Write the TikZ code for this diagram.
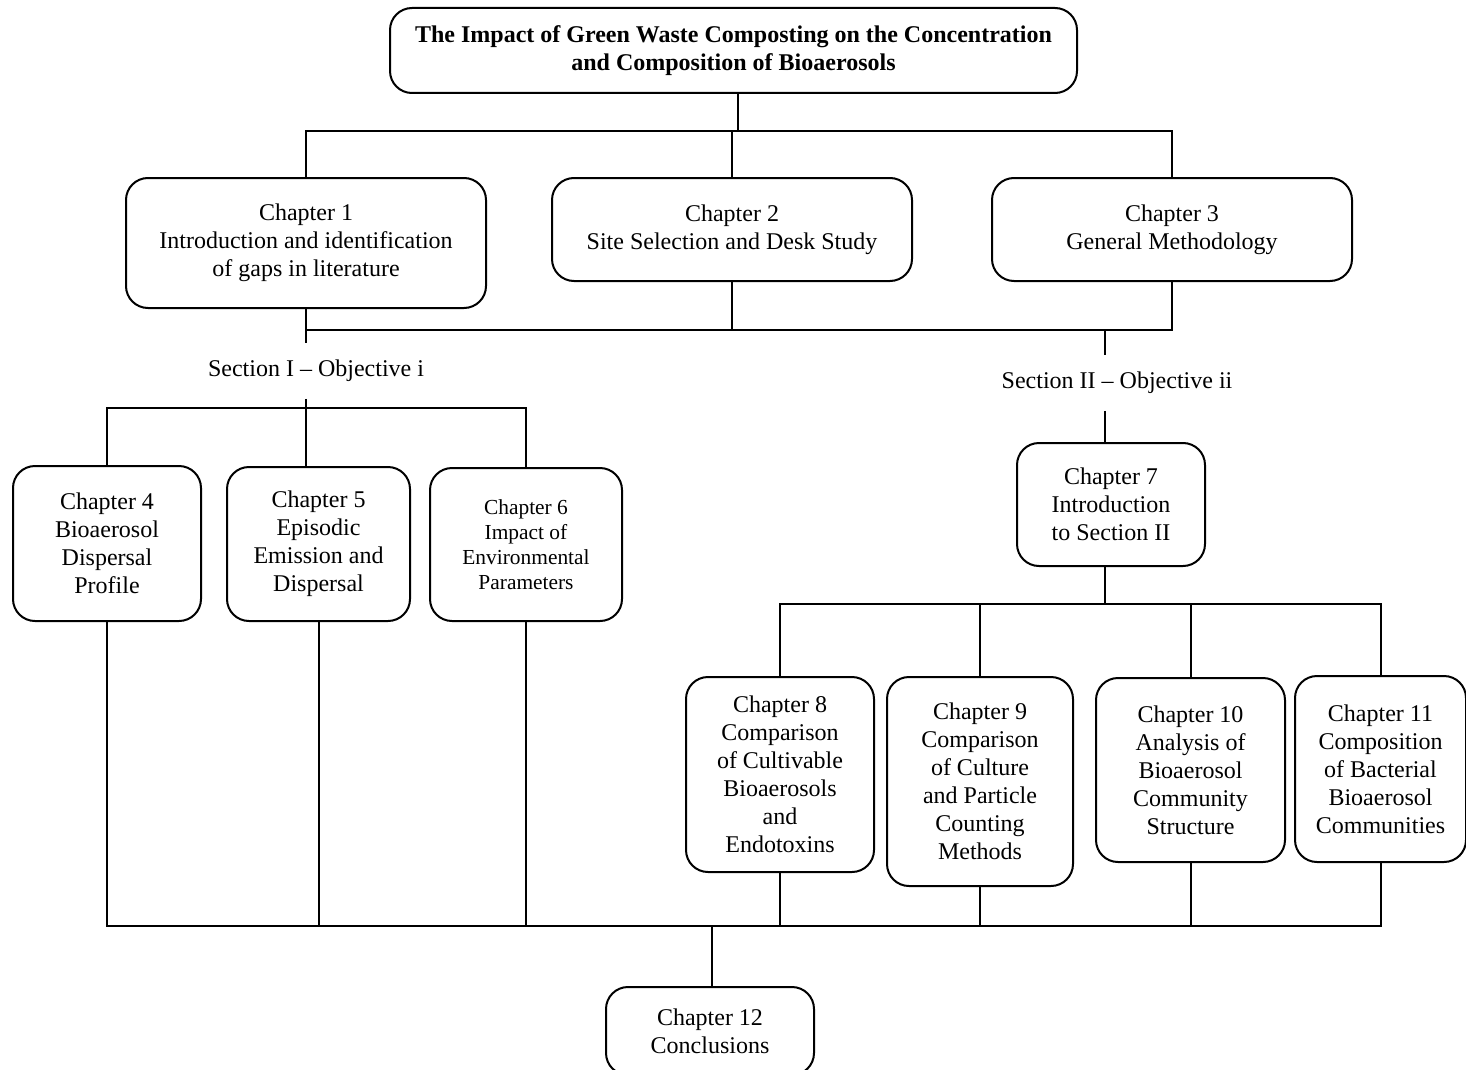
\documentclass[tikz,border=0pt]{standalone}
\usepackage{fontspec}
\setmainfont{Liberation Serif}
\usepackage{tikz}

\begin{document}
\begin{tikzpicture}[x=0.5pt, y=-0.5pt, line width=1pt,
        chap/.style={draw, rounded corners=11pt, align=center, inner sep=0pt, font=\fontsize{12}{14}\selectfont},
        sect/.style={inner sep=8pt, font=\fontsize{12}{14}\selectfont}]
        \useasboundingbox (0,0) rectangle (1466,1070);
        % top row
        \node[chap, minimum width=343.5pt, minimum height=42.5pt, font=\fontsize{12}{14}\selectfont\bfseries] (title) at (733.5,50.5) {The Impact of Green Waste Composting on the Concentration\\and Composition of Bioaerosols};
        \node[chap, minimum width=180pt, minimum height=65pt] (ch1) at (306,243) {Chapter 1\\Introduction and identification\\of gaps in literature};
        \node[chap, minimum width=180pt, minimum height=51.5pt] (ch2) at (732,229.5) {Chapter 2\\Site Selection and Desk Study};
        \node[chap, minimum width=180pt, minimum height=51.5pt] (ch3) at (1172,229.5) {Chapter 3\\General Methodology};
        % sections
        \node[sect] (sec1) at (316,371) {Section I -- Objective i};
        \node[sect] (sec2) at (1117,383) {Section II -- Objective ii};
        % section I
        \node[chap, minimum width=94pt, minimum height=77.5pt] (ch4) at (107,543.5) {Chapter 4\\Bioaerosol\\Dispersal\\Profile};
        \node[chap, minimum width=91.5pt, minimum height=77pt] (ch5) at (318.5,544) {Chapter 5\\Episodic\\Emission and\\Dispersal};
        \node[chap, minimum width=96pt, minimum height=76.5pt, font=\fontsize{10.7}{12.5}\selectfont] (ch6) at (526,544.5) {Chapter 6\\Impact of\\Environmental\\Parameters};
        % section II
        \node[chap, minimum width=94pt, minimum height=61.5pt] (ch7) at (1111,504.5) {Chapter 7\\Introduction\\to Section II};
        \node[chap, minimum width=94pt, minimum height=97.5pt] (ch8) at (780,774.5) {Chapter 8\\Comparison\\of Cultivable\\Bioaerosols\\and\\Endotoxins};
        \node[chap, minimum width=93pt, minimum height=104.5pt] (ch9) at (980,781.5) {Chapter 9\\Comparison\\of Culture\\and Particle\\Counting\\Methods};
        \node[chap, minimum width=94.5pt, minimum height=92pt] (ch10) at (1190.5,770) {Chapter 10\\Analysis of\\Bioaerosol\\Community\\Structure};
        \node[chap, minimum width=85.5pt, minimum height=93pt] (ch11) at (1380.5,769) {Chapter 11\\Composition\\of Bacterial\\Bioaerosol\\Communities};
        \node[chap, minimum width=104pt, minimum height=44pt] (ch12) at (710,1031) {Chapter 12\\Conclusions};
        % bus lines
        \coordinate (bus1) at (738,131);
        \coordinate (bus2) at (1105,330);
        \coordinate (bus3) at (306,408);
        \coordinate (bus4) at (1105,604);
        \coordinate (bus5) at (712,926);
        \draw (title.south -| bus1)--(bus1);
        \draw (ch1.north) |- (bus1) -| (ch3.north);
        \draw (ch2.north)--(ch2.north |- bus1);
        \draw (ch1.south) |- (bus2) -| (ch3.south);
        \draw (ch2.south)--(ch2.south |- bus2);
        \draw (ch1.south)--(ch1.south |- sec1.north);
        \draw (bus2)--(bus2 |- sec2.north);
        \draw (bus3 |- sec1.south)--(bus3 |- ch5.north);
        \draw (ch4.north) |- (bus3) -| (ch6.north);
        \draw (bus2 |- sec2.south)--(bus2 |- ch7.north);
        \draw (ch7.south -| bus4)--(bus4);
        \draw (ch8.north) |- (bus4) -| (ch11.north);
        \draw (ch9.north)--(ch9.north |- bus4);
        \draw (ch10.north)--(ch10.north |- bus4);
        \draw (ch4.south) |- (bus5) -| (ch11.south);
        \draw (ch5.south)--(ch5.south |- bus5);
        \draw (ch6.south)--(ch6.south |- bus5);
        \draw (ch8.south)--(ch8.south |- bus5);
        \draw (ch9.south)--(ch9.south |- bus5);
        \draw (ch10.south)--(ch10.south |- bus5);
        \draw (bus5)--(ch12.north -| bus5);
    \end{tikzpicture}
\end{document}
